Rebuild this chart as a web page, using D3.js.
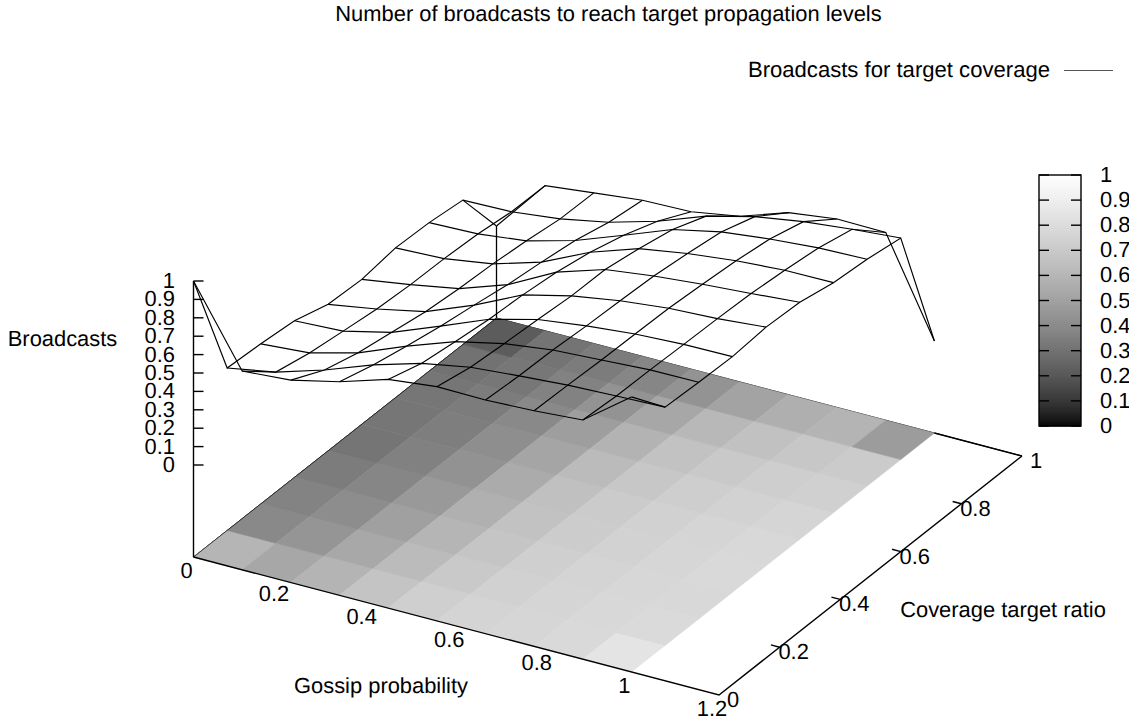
<!DOCTYPE html>
<html><head><meta charset="utf-8">
<script src="https://cdn.jsdelivr.net/npm/d3@7/dist/d3.min.js"></script>
<style>
html,body{margin:0;padding:0;background:#fff}
svg{display:block}
text{font-family:"Liberation Sans",Arial,sans-serif;font-size:21.9px;fill:#000;text-rendering:geometricPrecision}
</style></head><body><div id="chart"></div>
<script>
const titleText = "Number of broadcasts to reach target propagation levels";
const legendText = "Broadcasts for target coverage";
const xTitle = "Gossip probability";
const yTitle = "Coverage target ratio";
const zTitle = "Broadcasts";
const gossipProbability = [0,0.1111,0.2222,0.3333,0.4444,0.5556,0.6667,0.7778,0.8889,1];
const coverageTarget = [0,0.1111,0.2222,0.3333,0.4444,0.5556,0.6667,0.7778,0.8889,1];
// broadcasts[i][j]: i = gossip probability, j = coverage target (normalised)
const row0 = [1,.383,.37,.351,.296,.287,.314,.307,.285,0];
const row1 = [.58,.43,.39,.364,.34,.328,.325,.315,.291,.289];
const row2 = [.60,.511,.46,.427,.395,.376,.366,.347,.322,.319];
const row3 = [.661,.608,.566,.53,.50,.467,.445,.418,.373,.348];
const row4 = [.743,.686,.66,.637,.625,.604,.568,.516,.448,.355];
const row5 = [.773,.734,.718,.705,.689,.688,.657,.617,.545,.40];
const row6 = [.77,.757,.753,.74,.732,.722,.70,.673,.612,.489];
const row7 = [.781,.776,.768,.765,.761,.747,.73,.704,.654,.524];
const row8 = [.80,.786,.784,.778,.774,.766,.748,.725,.682,.52];
const row9 = [.995,.795,.786,.781,.797,.788,.75,.733,.704,0];
const broadcasts = [row0,row1,row2,row3,row4,row5,row6,row7,row8,row9];
const xTicks = [0,0.2,0.4,0.6,0.8,1,1.2];
const yTicks = [0,0.2,0.4,0.6,0.8,1];
const zTicks = [0,0.1,0.2,0.3,0.4,0.5,0.6,0.7,0.8,0.9,1];
const cbTicks = [0,0.1,0.2,0.3,0.4,0.5,0.6,0.7,0.8,0.9,1];

const W = 1129, H = 722;
const svg = d3.select("#chart").append("svg").attr("width",W).attr("height",H);

// orthographic projection assembled from linear scales
const ox = 193.5, oy = 557;
const xPx = d3.scaleLinear([0,1.2],[0,525.5]);
const xPy = d3.scaleLinear([0,1.2],[0,138]);
const yPx = d3.scaleLinear([0,1],[0,303]);
const yPy = d3.scaleLinear([0,1],[0,-239]);
const zPy = d3.scaleLinear([0,1],[-92,-276]);
const floorP = (x,y)=>[ox+xPx(x)+yPx(y), oy+xPy(x)+yPy(y)];
const P = (x,y,z)=>[ox+xPx(x)+yPx(y), oy+xPy(x)+yPy(y)+zPy(z)];
const gamma = 1.5;
const grayOf = v=>{const g=Math.round(255*Math.pow(Math.max(0,Math.min(1,v)),1/gamma));return `rgb(${g},${g},${g})`;};
const lineGen = d3.line();
const ink = "#000";

// back border under the surface
const back = svg.append("g").attr("fill","none").attr("stroke",ink).attr("stroke-width",1);
back.append("path").attr("d",lineGen([floorP(0,0),floorP(0,1),floorP(1.2,1)]));
back.append("path").attr("d",lineGen([floorP(0,1),P(0,1,0)])).attr("stroke-width",1.3);

// pm3d floor
const cells = [];
broadcasts.slice(0,-1).forEach((r,i)=>r.slice(0,-1).forEach((z,j)=>{
  cells.push({i,j,m:d3.mean([z,r[j+1],broadcasts[i+1][j],broadcasts[i+1][j+1]])});
}));
svg.append("g").selectAll("path").data(cells).join("path")
  .attr("d",c=>{const x0=gossipProbability[c.i],x1=gossipProbability[c.i+1],y0=coverageTarget[c.j],y1=coverageTarget[c.j+1];
    return lineGen([floorP(x0,y0),floorP(x1,y0),floorP(x1,y1),floorP(x0,y1)])+"Z";})
  .attr("fill",c=>grayOf(c.m)).attr("stroke",c=>grayOf(c.m)).attr("stroke-width",0.6);

// front borders and ticks
const front = svg.append("g").attr("fill","none").attr("stroke",ink).attr("stroke-width",1.4);
front.append("path").attr("d",lineGen([floorP(0,1),floorP(0,0)])).attr("stroke-width",0.6);
front.append("path").attr("d",lineGen([floorP(0,0),floorP(1.2,0),floorP(1.2,1)]));
front.append("path").attr("d",lineGen([floorP(1,1),floorP(1.2,1)]));
front.append("path").attr("d",lineGen([floorP(0,0),P(0,0,1)]));
front.selectAll(".zt").data(zTicks).join("path").attr("class","zt")
  .attr("d",z=>lineGen([P(0,0,z),[P(0,0,z)[0]+10,P(0,0,z)[1]]]));
front.selectAll(".yt").data(yTicks.slice(1,-1)).join("path").attr("class","yt")
  .attr("d",y=>lineGen([floorP(1.2,y),floorP(1.18,y)]));

// wireframe
const wire = svg.append("g").attr("fill","none").attr("stroke",ink).attr("stroke-width",1.15);
broadcasts.forEach((r,i)=>wire.append("path").attr("d",lineGen(r.map((z,j)=>P(gossipProbability[i],coverageTarget[j],z)))));
coverageTarget.forEach((y,j)=>wire.append("path").attr("d",lineGen(broadcasts.map((r,i)=>P(gossipProbability[i],y,r[j])))));

// tick labels
const labels = svg.append("g");
labels.selectAll(".xl").data(xTicks).join("text").attr("class","xl").attr("text-anchor","middle")
  .attr("x",x=>floorP(x,0)[0]-7).attr("y",x=>floorP(x,0)[1]+21).text(d=>d);
labels.selectAll(".yl").data(yTicks).join("text").attr("class","yl").attr("text-anchor","middle")
  .attr("x",y=>floorP(1.2,y)[0]+14).attr("y",y=>floorP(1.2,y)[1]+12).text(d=>d);
labels.selectAll(".zl").data(zTicks).join("text").attr("class","zl").attr("text-anchor","end")
  .attr("x",175).attr("y",z=>P(0,0,z)[1]+7).text(d=>d);

// titles
const T=(s,x,y,a)=>svg.append("text").attr("x",x).attr("y",y).attr("text-anchor",a||"middle").text(s);
T(titleText,608.5,21);
T(legendText,1050,77,"end").style("font-size","22.1px");
T(xTitle,381,693);
T(yTitle,1003,617);
T(zTitle,62.5,346);
svg.append("path").attr("d",lineGen([[1064,70.5],[1113,70.5]])).attr("stroke","#555").attr("fill","none");

// colour box
const cb = d3.scaleLinear([0,1],[426,175]);
const cbX0 = 1039, cbX1 = 1081;
const steps = d3.range(251);
svg.append("g").selectAll("rect").data(steps).join("rect")
  .attr("x",cbX0).attr("width",cbX1-cbX0)
  .attr("y",s=>cb((s+1)/251)).attr("height",s=>cb(s/251)-cb((s+1)/251)+0.5)
  .attr("fill",s=>grayOf((s+0.5)/251));
svg.append("rect").attr("x",cbX0).attr("y",175).attr("width",cbX1-cbX0).attr("height",251)
  .attr("fill","none").attr("stroke",ink).attr("stroke-width",1.4);
const cbt = svg.append("g").attr("stroke",ink).attr("stroke-width",1.4).attr("fill","none");
cbt.selectAll(".a").data(cbTicks).join("path").attr("class","a").attr("d",v=>lineGen([[cbX0,cb(v)],[cbX0+10,cb(v)]]));
cbt.selectAll(".b").data(cbTicks).join("path").attr("class","b").attr("d",v=>lineGen([[cbX1-10,cb(v)],[cbX1,cb(v)]]));
svg.append("g").selectAll("text").data(cbTicks).join("text")
  .attr("x",1100).attr("y",v=>cb(v)+7).text(d=>d);
</script></body></html>
